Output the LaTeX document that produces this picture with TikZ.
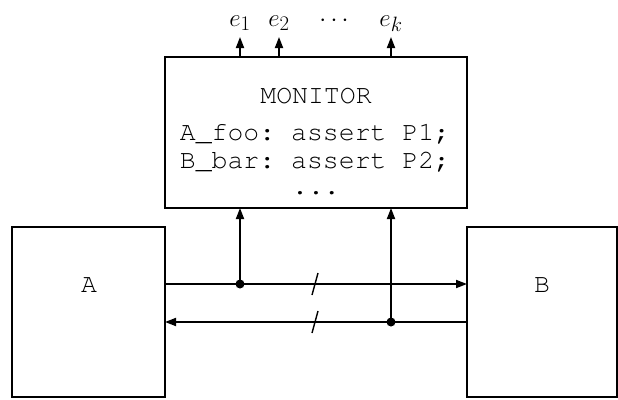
\documentclass[tikz,border=0pt]{standalone}
\usepackage[T1,TU]{fontenc}
\usetikzlibrary{arrows.meta,calc}
\begin{document}
\begin{tikzpicture}[x=1pt,y=-1pt,
  blk/.style={draw,line width=1.8pt,inner sep=0pt,outer sep=0pt},
  wire/.style={line width=1.8pt},
  arr/.style={wire,-{Triangle[length=11pt,width=8pt]}},
  tt/.style={font=\frenchspacing\fontencoding{T1}\fontfamily{pcr}\fontsize{26.5}{30}\selectfont,inner sep=0pt,anchor=base},
  mlab/.style={font=\fontsize{31}{36}\selectfont,inner sep=0pt,anchor=base},
  dot/.style={circle,fill,inner sep=0pt,minimum size=9pt}]
\useasboundingbox (0,0) rectangle (618,399);
\node[blk,minimum width=302pt,minimum height=151pt] (mon) at (316,132.5) {};
\node[blk,minimum width=153pt,minimum height=170pt] (A) at (88.5,312) {};
\node[blk,minimum width=150pt,minimum height=170pt] (B) at (542,312) {};
\node[tt] (la) at (89,292) {A};
\node[tt] (lb) at (542,292) {B};
\node[tt] (m0) at (316,103) {MONITOR};
\node[tt] (m1) at (315,140) {A\_foo: assert P1;};
\node[tt] (m2) at (315,168) {B\_bar: assert P2;};
\node[tt] (m3) at (316,194) {...};
% dots
\node[dot] (d1) at (240,284) {};
\node[dot] (d2) at (391,322) {};
% horizontal wires
\draw[arr] (d1 -| A.east) -- (d1 -| B.west);
\draw[arr] (d2 -| B.west) -- (d2 -| A.east);
% slashes
\coordinate (s1) at (315,284);
\coordinate (s2) at (315,322);
\draw[wire,line width=1.4pt] ($(s1)+(-3,11)$) -- ($(s1)+(3,-11)$);
\draw[wire,line width=1.4pt] ($(s2)+(-3,11)$) -- ($(s2)+(3,-11)$);
% vertical wires to monitor
\draw[arr] (d1.center) -- (d1 |- mon.south);
\draw[arr] (d2.center) -- (d2 |- mon.south);
% outputs
\coordinate (t1) at (240,37);
\coordinate (t2) at (279,37);
\coordinate (tk) at (391,37);
\draw[arr] (t1 |- mon.north) -- (t1);
\draw[arr] (t2 |- mon.north) -- (t2);
\draw[arr] (tk |- mon.north) -- (tk);
\node[mlab] (e1) at (240,26) {$e_1$};
\node[mlab] (e2) at (279,26) {$e_2$};
\node[mlab] (ed) at (334,26) {$\cdots$};
\node[mlab] (ek) at (391,26) {$e_k$};
\end{tikzpicture}
\end{document}
